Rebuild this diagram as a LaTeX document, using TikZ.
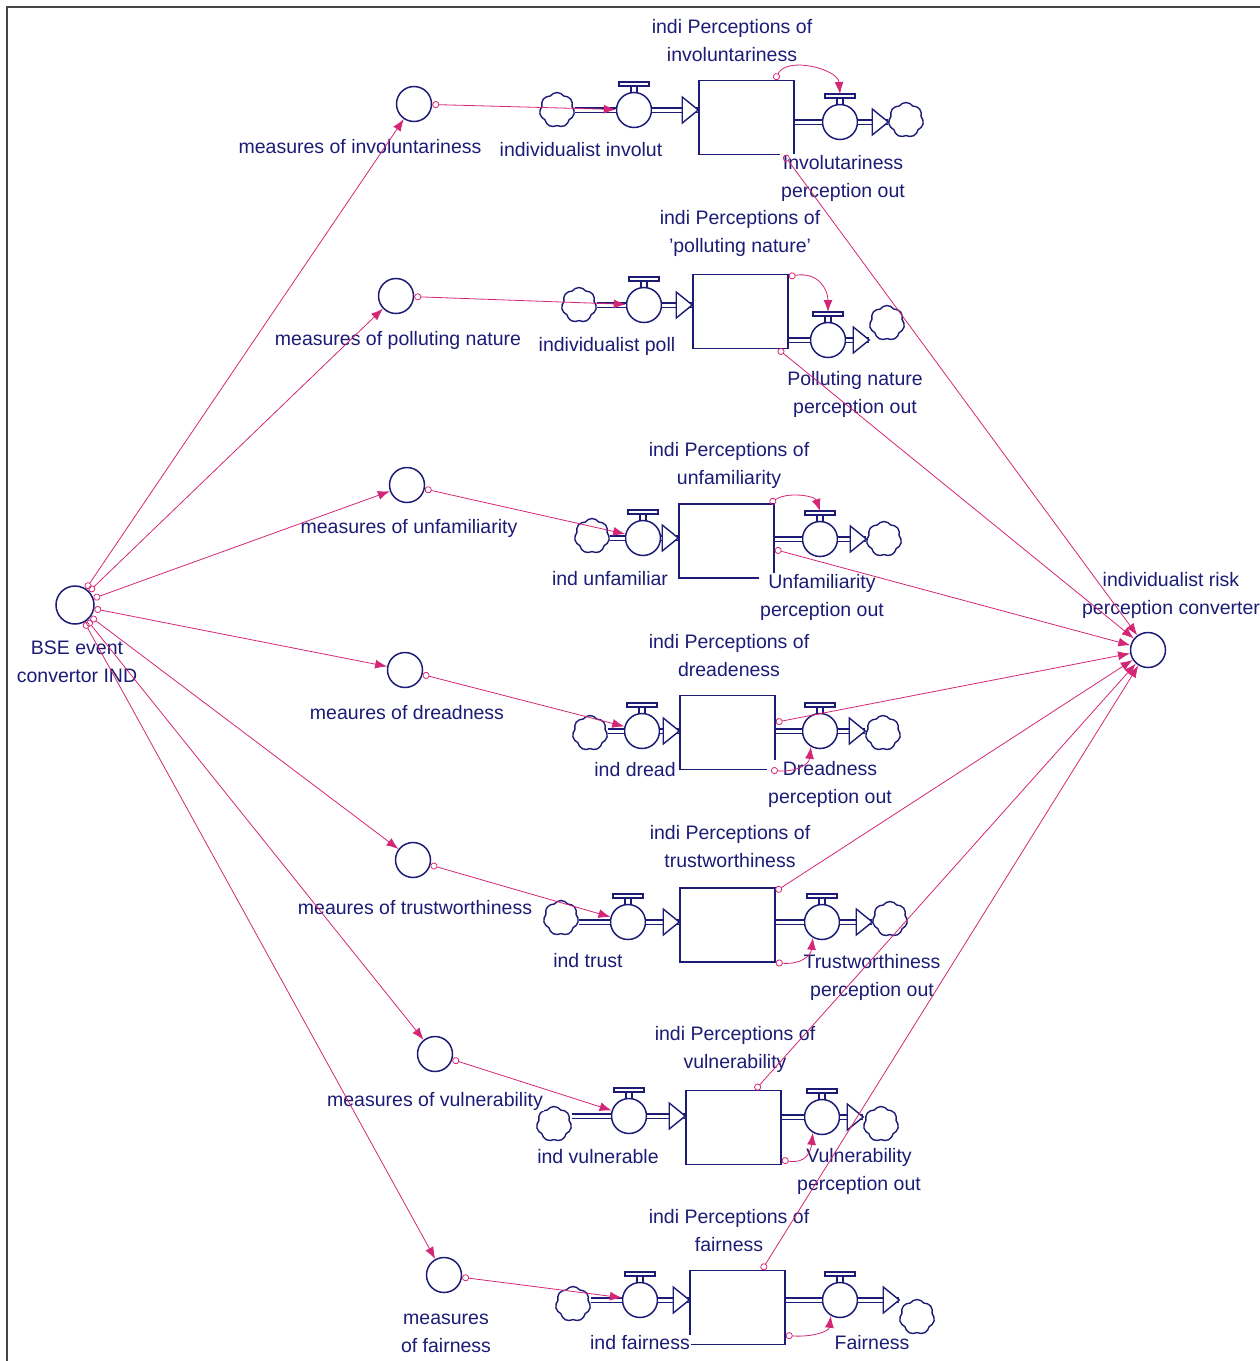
\documentclass[tikz,border=0pt]{standalone}
\usepackage{fontspec}
\setmainfont{Liberation Sans}
\usetikzlibrary{arrows.meta,shapes.symbols,calc}
\definecolor{navy}{RGB}{28,28,118}
\definecolor{linkc}{RGB}{212,38,118}
\definecolor{framec}{RGB}{70,70,70}
\tikzset{
  conv/.style={circle,draw=navy,line width=1.5pt,minimum size=35pt,inner sep=0pt,fill=white},
  stock/.style={rectangle,draw=navy,line width=1.5pt,minimum width=95pt,minimum height=74pt,inner sep=0pt,fill=white},
  cloudy/.style={cloud,cloud puffs=7,cloud puff arc=110,aspect=1,draw=navy,line width=1.4pt,minimum size=35pt,inner sep=0pt,fill=white},
  ring/.style={circle,draw=navy,line width=1.5pt,minimum size=35pt,inner sep=0pt,fill=white},
  pipe/.style={draw=navy,line width=1.2pt,double=white,double distance=3pt},
  lbl/.style={text=navy,align=center,inner sep=1pt,fill=white,font=\fontsize{19.5}{28}\selectfont},
  link/.style={draw=linkc,line width=0.8pt,{Circle[open,length=7pt,width=7pt]}-{Latex[length=12pt,width=9pt]}},
  valve/.pic={
    \draw[navy,line width=1.3pt,fill=white] (-3,-17) rectangle (3,-24);
    \draw[navy,line width=1.3pt,fill=white] (-15,-24) rectangle (15,-28);
    \node[ring] (-c) at (0,0) {};
    \coordinate (-h) at (0,-28);
  },
  pipetip/.pic={\draw[navy,line width=1.4pt,fill=white] (0,0) -- (-16,-13) -- (-16,13) -- cycle;}
}
\begin{document}
\begin{tikzpicture}[x=1pt,y=-1pt]
\useasboundingbox (0,0) rectangle (1260,1361);
\draw[framec,line width=2.5pt] (7,1361) -- (7,7) -- (1260,7);

% converters
\node[conv,minimum size=38pt] (bse) at (75,605) {};
\node[conv] (risk) at (1148,650) {};
\node[conv] (m1) at (414,104) {};
\node[conv] (m2) at (396,296) {};
\node[conv] (m3) at (407,485) {};
\node[conv] (m4) at (405,670) {};
\node[conv] (m5) at (413,860) {};
\node[conv] (m6) at (435,1054) {};
\node[conv] (m7) at (444,1275) {};

% stocks, valves and clouds
\node[stock] (s1) at (746.5,117.5) {};
\node[stock] (s2) at (740.5,311.5) {};
\node[stock] (s3) at (726.5,541) {};
\node[stock] (s4) at (727.5,732.5) {};
\node[stock] (s5) at (727.5,925) {};
\node[stock] (s6) at (733.5,1127.5) {};
\node[stock] (s7) at (737.5,1307.5) {};

\node[cloudy] (c1) at (557,110) {};
\node[cloudy] (c2) at (579,305) {};
\node[cloudy] (c3) at (592,536) {};
\node[cloudy] (c4) at (590,733) {};
\node[cloudy] (c5) at (561,918) {};
\node[cloudy] (c6) at (554,1124) {};
\node[cloudy] (c7) at (573,1304) {};

\pic (v1) at (634,110) {valve};
\pic (v2) at (644,305) {valve};
\pic (v3) at (643,538) {valve};
\pic (v4) at (642,731) {valve};
\pic (v5) at (628,922) {valve};
\pic (v6) at (629,1116) {valve};
\pic (v7) at (640,1300) {valve};

\pic (w1) at (840,122) {valve};
\pic (w2) at (828,340) {valve};
\pic (w3) at (820,539) {valve};
\pic (w4) at (820,731) {valve};
\pic (w5) at (822,922) {valve};
\pic (w6) at (822,1117) {valve};
\pic (w7) at (840,1300) {valve};

\node[cloudy] (k1) at (906,120) {};
\node[cloudy] (k2) at (887,323) {};
\node[cloudy] (k3) at (884,539) {};
\node[cloudy] (k4) at (883,733) {};
\node[cloudy] (k5) at (890,919) {};
\node[cloudy] (k6) at (881,1124) {};
\node[cloudy] (k7) at (917,1317) {};

\foreach \i in {1,...,7}
{
    \draw[pipe] (c\i.east |- v\i-c) -- (v\i-c);
    \draw[pipe] (v\i-c) -- (v\i-c -| s\i.west);
    \pic at (v\i-c -| s\i.west) {pipetip};
    \draw[pipe] (w\i-c -| s\i.east) -- (w\i-c);
    \draw[pipe] (w\i-c) -- (w\i-c -| k\i.west);
    \pic at (w\i-c -| k\i.west) {pipetip};
}

% labels
\node[lbl] (bsel) at (77,662) {BSE event\\convertor IND};
\node[lbl] (riskl) at (1171,595) {individualist risk\\perception converter};

\node[lbl] (m1l) at (360,147) {measures of involuntariness};
\node[lbl] (v1l) at (581,150) {individualist involut};
\node[lbl] (s1l) at (732,41) {indi Perceptions of\\involuntariness};
\node[lbl] (w1l) at (843,178) {Involutariness\\perception out};

\node[lbl] (m2l) at (398,340) {measures of polluting nature};
\node[lbl] (v2l) at (607,346) {individualist poll};
\node[lbl] (s2l) at (740,233) {indi Perceptions of\\'polluting nature'};
\node[lbl] (w2l) at (855,394) {Polluting nature\\perception out};

\node[lbl] (m3l) at (409,528) {measures of unfamiliarity};
\node[lbl] (v3l) at (610,579) {ind unfamiliar};
\node[lbl] (s3l) at (729,465) {indi Perceptions of\\unfamiliarity};
\node[lbl] (w3l) at (822,597) {Unfamiliarity\\perception out};

\node[lbl] (m4l) at (407,713) {meaures of dreadness};
\node[lbl] (v4l) at (635,770) {ind dread};
\node[lbl] (s4l) at (729,656) {indi Perceptions of\\dreadeness};
\node[lbl] (w4l) at (830,784) {Dreadness\\perception out};

\node[lbl] (m5l) at (415,908) {meaures of trustworthiness};
\node[lbl] (v5l) at (588,961) {ind trust};
\node[lbl] (s5l) at (730,847) {indi Perceptions of\\trustworthiness};
\node[lbl] (w5l) at (872,977) {Trustworthiness\\perception out};

\node[lbl] (m6l) at (435,1101) {measures of vulnerability};
\node[lbl] (v6l) at (598,1157) {ind vulnerable};
\node[lbl] (s6l) at (735,1049) {indi Perceptions of\\vulnerability};
\node[lbl] (w6l) at (859,1171) {Vulnerability\\perception out};

\node[lbl] (m7l) at (446,1333) {measures\\of fairness};
\node[lbl] (v7l) at (640,1343) {ind fairness};
\node[lbl] (s7l) at (729,1231) {indi Perceptions of\\fairness};
\node[lbl] (w7l) at (872,1343) {Fairness};

% connectors
\foreach \i in {1,...,7}
{
    \draw[link] (bse) -- (m\i);
    \draw[link] (m\i) -- (v\i-c);
}

\draw[link] (s1.53) .. controls +(12,-24) and +(-2,-25) .. (w1-h);
\draw[link] (s2.36) .. controls +(30,-5) and +(0,-22) .. (w2-h);
\draw[link] (s3.41) .. controls +(18,-12) and +(-5,-15) .. (w3-h);
\draw[link] (s4.-41) .. controls +(25,2) and +(-2,18) .. (w4-c.240);
\draw[link] (s5.-38) .. controls +(25,2) and +(-2,18) .. (w5-c.240);
\draw[link] (s6.-34) .. controls +(25,4) and +(-2,18) .. (w6-c.240);
\draw[link] (s7.-30) .. controls +(25,2) and +(-2,16) .. (w7-c.240);

\draw[link] (s1.-45) -- (risk);
\draw[link] (s2.-45) -- (risk);
\draw[link] (s3.-10) -- (risk);
\draw[link] (s4.12) -- (risk);
\draw[link] (s5.35) -- (risk);
\draw[link] (s6.60) -- (risk);
\draw[link] (s7.57) -- (risk);
\end{tikzpicture}
\end{document}
